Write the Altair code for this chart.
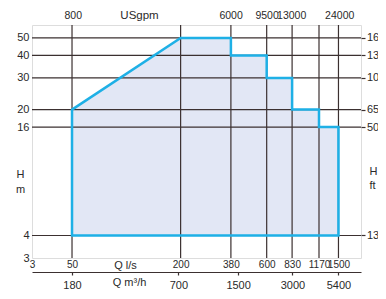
import altair as alt
import pandas as pd

# ---- data (Q in l/s, H in m) ----
range_q = [50, 200, 380, 380, 600, 600, 830, 830, 1170, 1170, 1500]
range_h = [20, 50, 50, 40, 40, 30, 30, 20, 20, 16, 16]
h_floor = 4

grid_q = [50, 200, 380, 600, 830, 1170, 1500]
grid_h = [4, 16, 20, 30, 40, 50]

ls_ticks = [30, 50, 200, 380, 600, 830, 1170, 1500]
ls_labels = ["3", "50", "200", "380", "600", "830", "1170", "1500"]
gpm_ticks = [800, 6000, 9500, 13000, 24000]
m3h_ticks = [180, 700, 1500, 3000, 5400]
hm_ticks = [3, 4, 16, 20, 30, 40, 50]
hft_pos = [4, 16, 20, 30, 40, 50]
hft_labels = ["13", "50", "65", "10", "13", "16"]

Q_MIN, Q_MAX = 30, 2000
H_MIN, H_MAX = 3, 59
LS_TO_GPM = 15.85
LS_TO_M3H = 3.6

FONT = "Liberation Sans"
INK = "#3b3030"
TEXT = "#2a2a2a"
BLUE = "#1eb0e6"
FILL = "#e2e7f5"


def label_expr(vals, labels):
    expr = "''"
    for v, l in reversed(list(zip(vals, labels))):
        expr = f"datum.value == {v} ? '{l}' : ({expr})"
    return expr


def axis(**kw):
    base = dict(grid=False, domain=False, ticks=False, tickSize=0,
                labelFlush=False, labelOverlap=False, labelBound=False,
                labelFont=FONT, labelFontSize=11, labelColor=TEXT,
                titleFont=FONT, titleFontSize=11, titleColor=TEXT,
                titleFontWeight="normal", titleAngle=0, titleAlign="center",
                titleBaseline="alphabetic")
    base.update(kw)
    return alt.Axis(**base)


xs = alt.Scale(type="log", domain=[Q_MIN, Q_MAX])
ys = alt.Scale(type="log", domain=[H_MIN, H_MAX])

df_range = pd.DataFrame({"q": range_q, "h": range_h})

fill = alt.Chart(df_range).mark_area(color=FILL, opacity=1, interpolate="linear").encode(
    x=alt.X("q:Q", scale=xs, axis=axis(
        orient="bottom", values=ls_ticks, labelExpr=label_expr(ls_ticks, ls_labels),
        labelBaseline="top", labelPadding=1.5, labelFontSize=10,
        title="Q l/s", titleX=93, titleY=10)),
    y=alt.Y("h:Q", scale=ys, axis=axis(
        orient="left", values=hm_ticks, labelPadding=3, format="d",
        title=["H", "m"], titleX=-12, titleY=152, titleLineHeight=15)),
    y2=alt.datum(h_floor),
)

hgrid = alt.Chart(pd.DataFrame({"h": grid_h})).mark_rule(color=INK, strokeWidth=1.2).encode(
    y=alt.Y("h:Q", scale=ys, axis=None))
vgrid = alt.Chart(pd.DataFrame({"q": grid_q})).mark_rule(color=INK, strokeWidth=1.2).encode(
    x=alt.X("q:Q", scale=xs, axis=None))

outline = alt.Chart(df_range).mark_area(
    fill="transparent", stroke=BLUE, strokeWidth=2.5, strokeJoin="miter", interpolate="linear"
).encode(
    x=alt.X("q:Q", scale=xs, axis=None),
    y=alt.Y("h:Q", scale=ys, axis=None),
    y2=alt.datum(h_floor),
)

right_axis = alt.Chart(pd.DataFrame({"h": hft_pos})).mark_point(opacity=0).encode(
    y=alt.Y("h:Q", scale=ys, axis=axis(
        orient="right", values=hft_pos, labelExpr=label_expr(hft_pos, hft_labels),
        ticks=True, tickSize=4, tickColor=INK, tickWidth=1.2, labelPadding=1.5,
        title=["H", "ft"], titleX=8, titleY=149, titleLineHeight=14, titleAlign="left")))

top_axis = alt.Chart(pd.DataFrame({"g": gpm_ticks})).mark_point(opacity=0).encode(
    x=alt.X("g:Q", scale=alt.Scale(type="log", domain=[Q_MIN * LS_TO_GPM, Q_MAX * LS_TO_GPM]),
            axis=axis(orient="top", values=gpm_ticks, format="d", labelBaseline="alphabetic",
                      labelFontSize=10.5, labelPadding=7,
                      title="USgpm", titleFontSize=11.5, titleX=107, titleY=-7)))

m3h_axis = alt.Chart(pd.DataFrame({"m": m3h_ticks})).mark_point(opacity=0).encode(
    x=alt.X("m:Q", scale=alt.Scale(type="log", domain=[Q_MIN * LS_TO_M3H, Q_MAX * LS_TO_M3H]),
            axis=axis(orient="bottom", values=m3h_ticks, format="d", offset=14, domain=True,
                      domainColor=INK, domainWidth=1.2, ticks=True, tickSize=3, tickColor=INK,
                      tickWidth=1.2, labelBaseline="top", labelPadding=4,
                      title="Q m³/h", titleX=97, titleY=13)))

chart = alt.layer(fill, hgrid, vgrid, outline, right_axis, top_axis, m3h_axis).resolve_scale(
    x="independent", y="independent"
).properties(
    width=329, height=233,
    autosize=alt.AutoSizeParams(type="none"),
    padding={"left": 24, "top": 17, "right": 17, "bottom": 33},
).configure_view(stroke=INK, strokeWidth=1.3).configure(background="white")

chart.save("out.html", embed_options={"renderer": "svg", "actions": False})
